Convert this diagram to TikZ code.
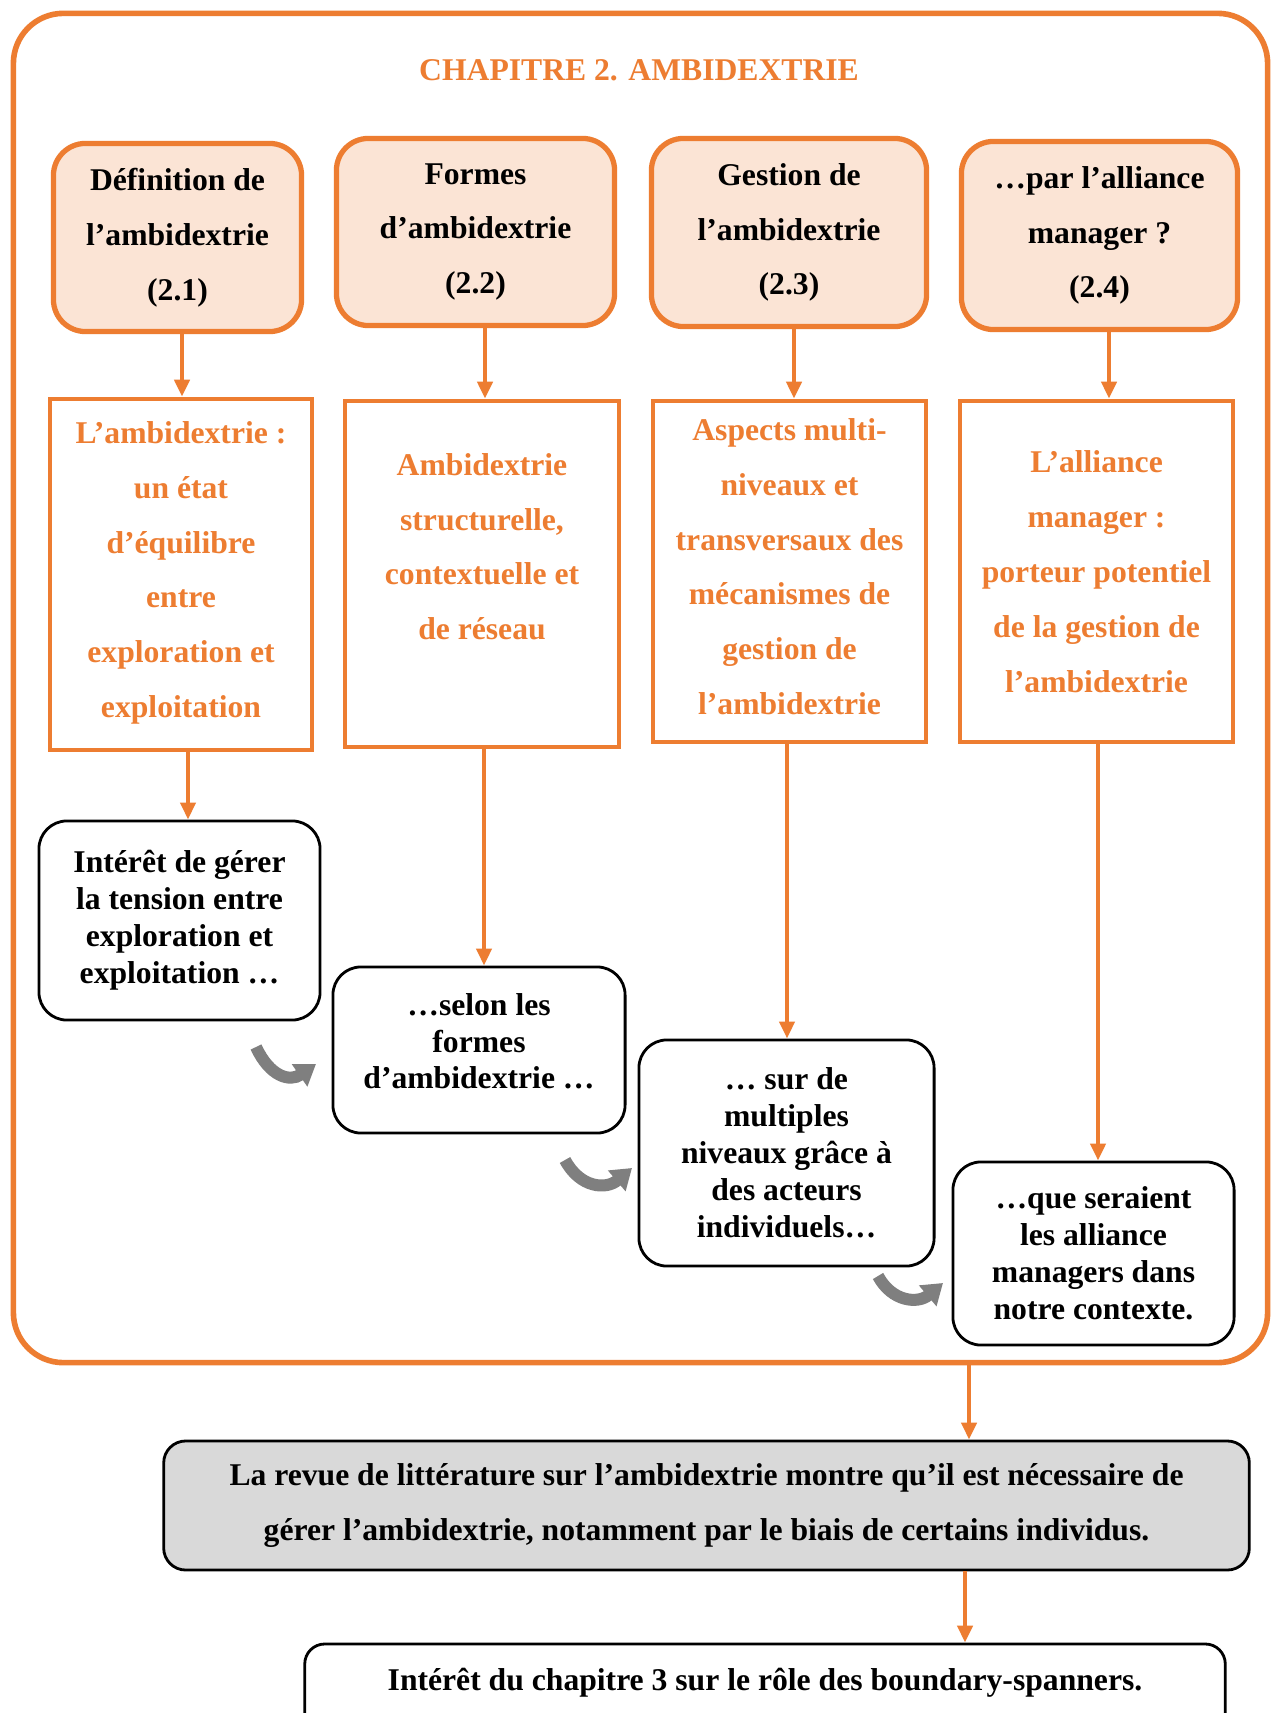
\documentclass[tikz,border=0pt]{standalone}
\usepackage{fontspec}
\setmainfont{Liberation Serif}
\usetikzlibrary{arrows.meta,calc}
\definecolor{orng}{HTML}{ED7D31}
\definecolor{peach}{HTML}{FBE4D5}
\definecolor{boxgray}{HTML}{D9D9D9}
\definecolor{arrgray}{HTML}{7F7F7F}
\begin{document}
\begin{tikzpicture}[x=0.01cm,y=-0.01cm,
  txt/.style={font=\bfseries\fontsize{9}{15.6}\selectfont, align=center},
  topbox/.style={txt, draw=orng, fill=peach, line width=1.5pt, rounded corners=0.32cm, inner sep=0pt},
  midbox/.style={txt, draw=orng, text=orng, line width=1.3pt, inner sep=0pt},
  botbox/.style={font=\bfseries\fontsize{9}{10.5}\selectfont, align=center, draw=black, line width=0.8pt, rounded corners=0.28cm, fill=white, inner sep=0pt},
  oarrow/.style={draw=orng, line width=1.25pt, -{Triangle[length=0.17cm,width=0.15cm]}},
  garrow/.style={draw=arrgray, line width=0.12cm, -{Triangle[length=0.2cm,width=0.26cm]}},
]
\useasboundingbox (0,0) rectangle (1276,1713);
\fill[white] (0,0) rectangle (1276,1713);

% outer frame
\node[draw=orng, line width=1.6pt, rounded corners=0.5cm, minimum width=12.535cm, minimum height=13.485cm, inner sep=0pt] (frame) at (640.5,688) {};

\node[txt, text=orng] (title) at (639,70) {CHAPITRE 2. AMBIDEXTRIE};

% top boxes
\node[topbox, minimum width=2.48cm, minimum height=1.88cm] (t1) at (177.5,237.5) {Définition de\\l’ambidextrie\\(2.1)};
\node[topbox, minimum width=2.78cm, minimum height=1.87cm] (t2) at (475.5,232) {Formes\\d’ambidextrie\\(2.2)};
\node[topbox, minimum width=2.75cm, minimum height=1.88cm] (t3) at (789,232.5) {Gestion de\\l’ambidextrie\\(2.3)};
\node[topbox, minimum width=2.76cm, minimum height=1.88cm] (t4) at (1099.5,235.5) {…par l’alliance\\manager ?\\(2.4)};

% middle boxes
\node[midbox, minimum width=2.62cm, minimum height=3.51cm] (m1) at (181,574.5) {L’ambidextrie :\\un état\\d’équilibre\\entre\\exploration et\\exploitation\\[-12.8pt]~};
\node[midbox, minimum width=2.74cm, minimum height=3.46cm] (m2) at (482,574) {Ambidextrie\\structurelle,\\contextuelle et\\de réseau\\~};
\node[midbox, minimum width=2.73cm, minimum height=3.41cm] (m3) at (789.5,571.5) {Aspects multi-\\niveaux et\\transversaux des\\mécanismes de\\gestion de\\l’ambidextrie\\[-12.8pt]~};
\node[midbox, minimum width=2.73cm, minimum height=3.41cm] (m4) at (1096.5,571.5) {L’alliance\\manager :\\porteur potentiel\\de la gestion de\\l’ambidextrie};

% bottom boxes
\node[botbox, minimum width=2.81cm, minimum height=1.99cm] (b1) at (179.5,920.5) {Intérêt de gérer\\la tension entre\\exploration et\\exploitation …};
\node[botbox, minimum width=2.92cm, minimum height=1.66cm] (b2) at (479,1050) {…selon les\\formes\\d’ambidextrie …\\[-5.4pt]~};
\node[botbox, minimum width=2.95cm, minimum height=2.26cm] (b3) at (786.5,1153) {… sur de\\multiples\\niveaux grâce à\\des acteurs\\individuels…};
\node[botbox, minimum width=2.81cm, minimum height=1.83cm] (b4) at (1093.5,1253.5) {…que seraient\\les alliance\\managers dans\\notre contexte.};

% summary boxes
\node[txt, draw=black, fill=boxgray, line width=0.8pt, rounded corners=0.22cm, minimum width=10.85cm, minimum height=1.29cm, inner sep=0pt] (g) at (706.5,1505.5) {La revue de littérature sur l’ambidextrie montre qu’il est nécessaire de\\gérer l’ambidextrie, notamment par le biais de certains individus.};
\node[txt, draw=black, fill=white, line width=0.8pt, rounded corners=0.2cm, minimum width=9.2cm, minimum height=0.91cm, inner sep=0pt] (f) at (765,1689.5) {\raisebox{0.195cm}{Intérêt du chapitre 3 sur le rôle des boundary-spanners.}};

% arrow x positions
\coordinate (xa1) at (182,0);
\coordinate (xa2) at (485,0);
\coordinate (xa3) at (794,0);
\coordinate (xa4) at (1109,0);
\coordinate (xb1) at (188,0);
\coordinate (xb2) at (484,0);
\coordinate (xb3) at (787,0);
\coordinate (xb4) at (1098,0);
\coordinate (xg) at (969,0);
\coordinate (xf) at (965,0);

\draw[oarrow] (t1.south -| xa1) -- (m1.north -| xa1);
\draw[oarrow] (t2.south -| xa2) -- (m2.north -| xa2);
\draw[oarrow] (t3.south -| xa3) -- (m3.north -| xa3);
\draw[oarrow] (t4.south -| xa4) -- (m4.north -| xa4);
\draw[oarrow] (m1.south -| xb1) -- (b1.north -| xb1);
\draw[oarrow] (m2.south -| xb2) -- (b2.north -| xb2);
\draw[oarrow] (m3.south -| xb3) -- (b3.north -| xb3);
\draw[oarrow] (m4.south -| xb4) -- (b4.north -| xb4);
\draw[oarrow] (frame.south -| xg) -- (g.north -| xg);
\draw[oarrow] (g.south -| xf) -- (f.north -| xf);

% gray curved arrows
\coordinate (g1s) at (256,1047);
\coordinate (g1e) at (316,1064);
\coordinate (g2s) at (565,1160);
\coordinate (g2e) at (632,1168);
\coordinate (g3s) at (878,1276);
\coordinate (g3e) at (943,1283);
\draw[garrow] (g1s) .. controls (270,1077) and (290,1082) .. (g1e);
\draw[garrow] (g2s) .. controls (580,1188) and (606,1190) .. (g2e);
\draw[garrow] (g3s) .. controls (892,1302) and (918,1304) .. (g3e);
\end{tikzpicture}
\end{document}
